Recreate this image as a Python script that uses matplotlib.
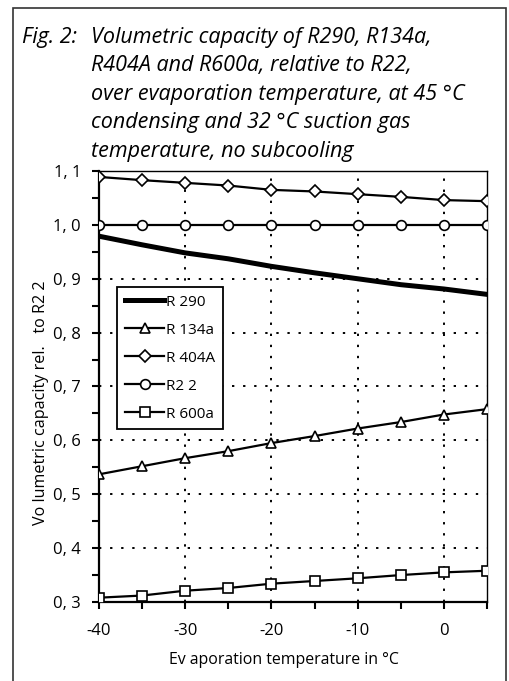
import matplotlib
matplotlib.use("Agg")
import matplotlib.pyplot as plt
from matplotlib.patches import Rectangle
from matplotlib.ticker import MultipleLocator, FuncFormatter

plt.rcParams['font.family'] = ['Open Sans', 'DejaVu Sans']

temps = [-40, -35, -30, -25, -20, -15, -10, -5, 0, 5]
r290 = [0.979, 0.963, 0.948, 0.937, 0.923, 0.911, 0.900, 0.889, 0.881, 0.871]
r134a = [0.537, 0.552, 0.567, 0.580, 0.595, 0.608, 0.622, 0.634, 0.648, 0.658]
r404a = [1.089, 1.083, 1.078, 1.073, 1.065, 1.062, 1.057, 1.052, 1.046, 1.044]
r22 = [1.0, 1.0, 1.0, 1.0, 1.0, 1.0, 1.0, 1.0, 1.0, 1.0]
r600a = [0.308, 0.312, 0.321, 0.326, 0.334, 0.339, 0.344, 0.350, 0.355, 0.358]

labels = ["R 290", "R 134a", "R 404A", "R2 2", "R 600a"]
title_lines = ["Volumetric capacity of R290, R134a,",
               "R404A and R600a, relative to R22,",
               "over evaporation temperature, at 45 °C",
               "condensing and 32 °C suction gas",
               "temperature, no subcooling"]

W, H = 509, 681
fig = plt.figure(figsize=(W/100, H/100), dpi=100)

def fx(px): return px / W
def fy(py): return 1 - py / H

# outer frame
fig.patches.append(Rectangle((fx(13), -0.02), fx(506) - fx(13), fy(8) + 0.02,
                             transform=fig.transFigure, fill=False,
                             edgecolor='#333333', linewidth=1.2))

ax = fig.add_axes([fx(99), fy(602), fx(487) - fx(99), fy(171) - fy(602)])

mk = dict(markerfacecolor='white', markeredgecolor='black', markeredgewidth=1.2,
          markersize=7, color='black', linewidth=1.6)
ax.plot(temps, r290, color='black', linewidth=3.6, label=labels[0], zorder=3)
ax.plot(temps, r134a, marker='^', label=labels[1], zorder=3, **mk)
ax.plot(temps, r404a, marker='D', label=labels[2], zorder=3,
        **{**mk, 'markersize': 6})
ax.plot(temps, r22, marker='o', label=labels[3], zorder=3, **mk)
ax.plot(temps, r600a, marker='s', label=labels[4], zorder=3, **mk)

ax.set_xlim(-40, 5)
ax.set_ylim(0.3, 1.1)
ax.xaxis.set_major_locator(MultipleLocator(10))
ax.xaxis.set_minor_locator(MultipleLocator(5))
ax.yaxis.set_major_locator(MultipleLocator(0.1))
ax.yaxis.set_minor_locator(MultipleLocator(0.05))
ax.xaxis.set_major_formatter(FuncFormatter(lambda v, p: f"{int(round(v))}"))
ax.yaxis.set_major_formatter(FuncFormatter(lambda v, p: f"{v:.1f}".replace('.', ', ')))
ax.tick_params(axis='both', which='both', direction='out', length=5, width=1.5,
               labelsize=12, colors='black')
ax.tick_params(axis='y', which='major', pad=8)
ax.tick_params(axis='x', which='major', pad=10)
ax.grid(True, which='major', color='black', linestyle=(0, (1.2, 4.5)), linewidth=1.4)
for s in ax.spines.values():
    s.set_linewidth(1.6)
    s.set_color('black')
ax.spines['top'].set_linewidth(1.0)
ax.spines['right'].set_linewidth(1.0)

leg = ax.legend(loc='upper left', bbox_to_anchor=(fx(117), fy(287)),
                bbox_transform=fig.transFigure, frameon=True, fancybox=False,
                edgecolor='black', framealpha=1, fontsize=11, numpoints=1,
                handlelength=2.6, handletextpad=0.12, labelspacing=0.85,
                borderpad=0.5, borderaxespad=0)
leg.get_frame().set_linewidth(1.3)

fig.text(fx(284), fy(660), "Ev aporation temperature in °C", ha='center',
         va='center', fontsize=11.4)
fig.text(fx(41), fy(403), "Vo lumetric capacity rel.   to R2 2", rotation=90,
         ha='center', va='center', fontsize=11.6)

fig.text(fx(22), fy(43), "Fig. 2:", ha='left', va='baseline', fontsize=15.5,
         style='italic')
for i, line in enumerate(title_lines):
    fig.text(fx(91), fy(43 + 28.4 * i), line, ha='left', va='baseline',
             fontsize=15.5, style='italic')

fig.savefig("out.png", dpi=100)
